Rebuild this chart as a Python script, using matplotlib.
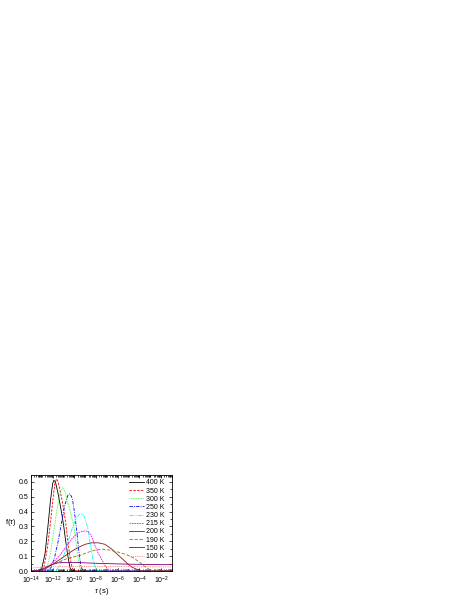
import numpy as np
import matplotlib.pyplot as plt
from matplotlib.ticker import FixedLocator, LogLocator, MultipleLocator, NullFormatter

plt.rcParams['font.family'] = ['Liberation Sans', 'DejaVu Sans']
plt.rcParams['mathtext.fontset'] = 'custom'
plt.rcParams['mathtext.rm'] = 'Liberation Sans'
plt.rcParams['mathtext.it'] = 'Liberation Sans:italic'

# log10(tau / s) and f(tau)
lt_400 = [-14, -13.3, -13.0, -12.7, -12.4, -12.2, -12.0, -11.9, -11.75, -11.5, -11.2, -11.0, -10.8, -10.6, -10.4, -10.2, -1]
f_400 = [0, 0, 0.02, 0.12, 0.33, 0.48, 0.59, 0.61, 0.60, 0.52, 0.40, 0.31, 0.20, 0.10, 0.02, 0, 0]

lt_350 = [-14, -13.0, -12.8, -12.5, -12.2, -12.0, -11.8, -11.65, -11.5, -11.2, -11.0, -10.8, -10.6, -10.4, -10.2, -10.0, -1]
f_350 = [0, 0, 0.03, 0.15, 0.33, 0.47, 0.59, 0.62, 0.60, 0.50, 0.42, 0.32, 0.20, 0.09, 0.02, 0, 0]

lt_300 = [-14, -12.8, -12.5, -12.2, -11.9, -11.6, -11.3, -11.1, -10.9, -10.6, -10.3, -10.1, -9.9, -9.7, -9.5, -9.3, -1]
f_300 = [0, 0, 0.03, 0.12, 0.27, 0.42, 0.53, 0.56, 0.54, 0.46, 0.38, 0.32, 0.22, 0.10, 0.02, 0, 0]

lt_250 = [-14, -12.4, -12.1, -11.8, -11.5, -11.2, -10.9, -10.6, -10.4, -10.2, -10.0, -9.8, -9.6, -9.4, -9.2, -1]
f_250 = [0, 0, 0.03, 0.10, 0.20, 0.32, 0.44, 0.51, 0.52, 0.49, 0.40, 0.28, 0.14, 0.03, 0, 0]

lt_230 = [-14, -11.7, -11.3, -11.0, -10.7, -10.4, -10.1, -9.8, -9.5, -9.3, -9.1, -8.8, -8.6, -8.4, -8.2, -8.0, -7.8, -1]
f_230 = [0, 0, 0.04, 0.10, 0.17, 0.24, 0.31, 0.36, 0.385, 0.385, 0.37, 0.30, 0.21, 0.12, 0.05, 0.01, 0, 0]

lt_215 = [-14, -12.8, -12.5, -12.2, -11.8, -11.4, -11.0, -10.6, -10.2, -9.8, -9.4, -9.0, -8.7, -8.4, -8.1, -7.8, -7.5, -7.2, -6.9, -6.6, -1]
f_215 = [0, 0, 0.02, 0.045, 0.07, 0.10, 0.14, 0.18, 0.22, 0.25, 0.265, 0.27, 0.265, 0.23, 0.17, 0.12, 0.08, 0.04, 0.01, 0, 0]

lt_200 = [-14, -13.0, -12.6, -12.0, -11.4, -10.8, -10.2, -9.6, -9.0, -8.4, -7.8, -7.2, -6.6, -6.0, -5.4, -4.8, -4.2, -3.8, -1]
f_200 = [0, 0, 0.02, 0.045, 0.075, 0.105, 0.135, 0.16, 0.18, 0.19, 0.19, 0.18, 0.15, 0.11, 0.07, 0.03, 0.01, 0, 0]

lt_190 = [-14, -13.4, -12.9, -12.2, -11.5, -10.8, -10.1, -9.5, -8.8, -8.1, -7.4, -6.7, -6.0, -5.2, -4.6, -4.0, -3.6, -3.3, -3.0, -2.7, -1]
f_190 = [0, 0, 0.02, 0.04, 0.06, 0.08, 0.095, 0.105, 0.125, 0.14, 0.147, 0.14, 0.128, 0.11, 0.09, 0.06, 0.035, 0.02, 0.007, 0, 0]

lt_150 = [-14, -13.5, -13.0, -12.5, -12.0, -11.5, -11.0, -10.0, -9.0, -8.0, -7.0, -6.0, -5.0, -4.0, -3.0, -2.0, -1.0]
f_150 = [0, 0, 0.01, 0.03, 0.045, 0.055, 0.058, 0.058, 0.055, 0.052, 0.05, 0.048, 0.046, 0.045, 0.044, 0.043, 0.043]

lt_100 = [-14, -13, -12, -10, -8, -6, -4, -2, -1]
f_100 = [0.02, 0.025, 0.028, 0.03, 0.03, 0.03, 0.029, 0.028, 0.028]

labels = ['400 K', '350 K', '300 K', '250 K', '230 K', '215 K', '200 K', '190 K', '150 K', '100 K']
xtick_exp = [-14, -12, -10, -8, -6, -4, -2]

curves = [(lt_400, f_400), (lt_350, f_350), (lt_300, f_300), (lt_250, f_250), (lt_230, f_230),
          (lt_215, f_215), (lt_200, f_200), (lt_190, f_190), (lt_150, f_150), (lt_100, f_100)]
colors = ['black', 'red', '#33ee33', 'blue', 'cyan', 'magenta', '#8b1a1a', '#808000', '#800080', '#ff6666']
styles = ['-', (0, (3, 1.5)), (0, (1, 1)), (0, (4, 1.5, 1, 1.5)), (0, (5, 1, 1, 1, 1, 1)),
          (0, (2, 1)), '-', (0, (4, 2)), '-', (0, (1, 1.2))]

fig = plt.figure(figsize=(4.63, 5.99), dpi=100)
ax = fig.add_axes([0.067, 0.0467, 0.3045, 0.160])

for (lt, f), c, ls, lab in zip(curves, colors, styles, labels):
    ax.plot(10.0 ** np.array(lt), f, color=c, ls=ls, lw=0.6, label=lab)

ax.set_xscale('log')
ax.set_xlim(1e-14, 1e-1)
ax.set_ylim(0, 0.645)

ax.xaxis.set_major_locator(FixedLocator([10.0 ** e for e in xtick_exp]))
ax.set_xticklabels([r'$10^{%d}$' % e for e in xtick_exp])
ax.xaxis.set_minor_locator(LogLocator(base=10, subs=np.arange(1, 10), numticks=100))
ax.xaxis.set_minor_formatter(NullFormatter())
ax.yaxis.set_major_locator(MultipleLocator(0.1))
ax.yaxis.set_minor_locator(MultipleLocator(0.05))
ax.yaxis.set_major_formatter(plt.FuncFormatter(lambda v, p: '%.1f' % v))

ax.tick_params(which='both', direction='in', top=True, right=True, labelsize=5, pad=2, width=0.5)
ax.tick_params(axis='x', which='major', pad=2.5)
ax.tick_params(which='major', length=2.5)
ax.tick_params(which='minor', length=1.3)
for s in ax.spines.values():
    s.set_linewidth(0.6)

ax.set_xlabel(r'$\tau$ (s)', fontsize=5.5)
ax.xaxis.set_label_coords(0.5, -0.16)
ax.set_ylabel(r'f($\tau$)', fontsize=5.5, rotation=0)
ax.yaxis.set_label_coords(-0.14, 0.45)

ax.legend(loc='upper right', fontsize=5, frameon=False, handlelength=2.2, handletextpad=0.3,
          labelspacing=0.17, borderaxespad=0.2, bbox_to_anchor=(0.98, 1.0))

fig.savefig('out.png', dpi=100)
